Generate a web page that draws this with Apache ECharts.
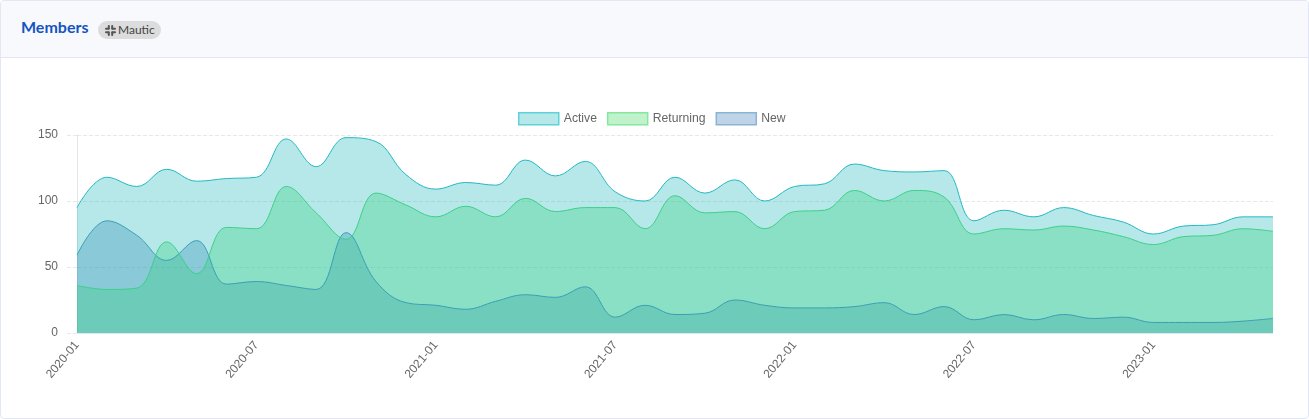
<!DOCTYPE html>
<html>
<head>
<meta charset="utf-8">
<title>Members</title>
<script src="https://cdn.jsdelivr.net/npm/echarts@6/dist/echarts.min.js"></script>
<style>
    html, body { margin: 0; padding: 0; background: #fff; }
    .card { position: relative; width: 1309px; height: 419px; box-sizing: border-box; border: 1px solid #e3e6f3; border-radius: 4px; overflow: hidden; }
    .card-head { height: 56px; background: #f8f9fd; border-bottom: 1px solid #e3e6f3; position: relative; }
    .title { position: absolute; left: 20px; top: 16px; font: bold 16px Lato, "Open Sans", sans-serif; color: #1554c0; }
    .badge { position: absolute; left: 97px; top: 20px; height: 18px; width: 63px; border-radius: 9px; background: #dcdcdc; font: 12px/18px Lato, "Open Sans", sans-serif; color: #444; }
    .badge svg { position: absolute; left: 7px; top: 4px; }
    .badge span { position: absolute; left: 20px; top: 0; }
    #chart { position: absolute; left: -1px; top: -1px; width: 1309px; height: 419px; }
</style>
</head>
<body>
<div class="card">
    <div class="card-head">
        <div class="title">Members</div>
        <div class="badge">
            <svg width="11" height="11" viewBox="0 0 11 11"><g fill="#555"><rect x="2.8" y="0" width="2" height="4.6" rx="1"/><rect x="6.2" y="0" width="2" height="4.6" rx="1"/><rect x="2.8" y="6.4" width="2" height="4.6" rx="1"/><rect x="6.2" y="6.4" width="2" height="4.6" rx="1"/><rect x="0" y="2.8" width="4.6" height="2" rx="1"/><rect x="6.4" y="2.8" width="4.6" height="2" rx="1"/><rect x="0" y="6.2" width="4.6" height="2" rx="1"/><rect x="6.4" y="6.2" width="4.6" height="2" rx="1"/></g></svg>
            <span>Mautic</span>
        </div>
    </div>
    <div id="chart"></div>
</div>
<script>
var months = ['2020-01','2020-02','2020-03','2020-04','2020-05','2020-06','2020-07','2020-08','2020-09','2020-10','2020-11','2020-12',
    '2021-01','2021-02','2021-03','2021-04','2021-05','2021-06','2021-07','2021-08','2021-09','2021-10','2021-11','2021-12',
    '2022-01','2022-02','2022-03','2022-04','2022-05','2022-06','2022-07','2022-08','2022-09','2022-10','2022-11','2022-12',
    '2023-01','2023-02','2023-03','2023-04','2023-05'];
var active = [95,118,111,124,115,117,118,147,126,148,145,120,109,114,112,131,119,130,107,100,118,106,116,100,111,113,128,123,122,123,85,93,88,95,89,84,75,81,82,88,88];
var returning = [36,33,34,69,45,80,79,111,91,71,106,97,88,96,88,102,92,95,95,79,104,91,92,79,92,93,108,100,108,103,75,79,78,81,78,73,67,73,74,79,77];
var newMembers = [59,85,74,55,70,37,39,36,33,76,39,23,21,18,24,29,27,35,12,21,14,15,25,21,19,19,20,23,14,20,10,14,10,14,11,12,8,8,8,9,11];

function makeSeries(name, values, fill, line) {
    return {
        name: name,
        type: 'line',
        data: values,
        smooth: 0.4,
        showSymbol: false,
        lineStyle: { width: 1, color: line },
        itemStyle: { color: line },
        areaStyle: { color: fill, opacity: 0.3 }
    };
}

var myChart = echarts.init(document.getElementById('chart'));
var option = {
    animation: false,
    textStyle: { fontFamily: '"Liberation Sans", Arial, sans-serif' },
    legend: {
        top: 107,
        left: 513,
        itemWidth: 40,
        itemHeight: 12,
        itemGap: 10,
        textStyle: { color: '#666', fontSize: 12.2, padding: [2, 0, 0, 0], fontFamily: '"Liberation Sans", Arial, sans-serif' },
        data: [
            { name: 'Active', icon: 'rect', itemStyle: { color: '#b7e8e9', borderColor: '#5ed2d8', borderWidth: 1.5, opacity: 1 } },
            { name: 'Returning', icon: 'rect', itemStyle: { color: '#c0f3cb', borderColor: '#86e89e', borderWidth: 1.5, opacity: 1 } },
            { name: 'New', icon: 'rect', itemStyle: { color: '#bfd4e6', borderColor: '#8bb3d6', borderWidth: 1.5, opacity: 1 } }
        ]
    },
    grid: { left: 77, right: 36, top: 135, bottom: 86 },
    xAxis: {
        type: 'category',
        boundaryGap: false,
        data: months,
        axisLine: { lineStyle: { color: '#e4e6ef' } },
        axisTick: { show: false },
        axisLabel: { interval: 5, rotate: 50, color: '#666', fontSize: 12, margin: 10 }
    },
    yAxis: {
        type: 'value',
        min: 0,
        max: 150,
        interval: 50,
        axisLine: { show: true, lineStyle: { color: '#e4e6ef' } },
        axisTick: { show: true, length: 10, lineStyle: { color: '#e8e8e8', type: 'dashed' } },
        axisLabel: { color: '#666', fontSize: 12, margin: 19, padding: [2, 0, 0, 0] },
        splitLine: { lineStyle: { color: '#e8e8e8', type: 'dashed' } }
    },
    // first legend entry is painted last, so Active sits on top
    series: [
        makeSeries('New', newMembers, '#2a70ac', '#3a9fb4'),
        makeSeries('Returning', returning, '#2dd752', '#3ccf88'),
        makeSeries('Active', active, '#0cb2b6', '#22b8c2')
    ]
};
myChart.setOption(option);
</script>
</body>
</html>
